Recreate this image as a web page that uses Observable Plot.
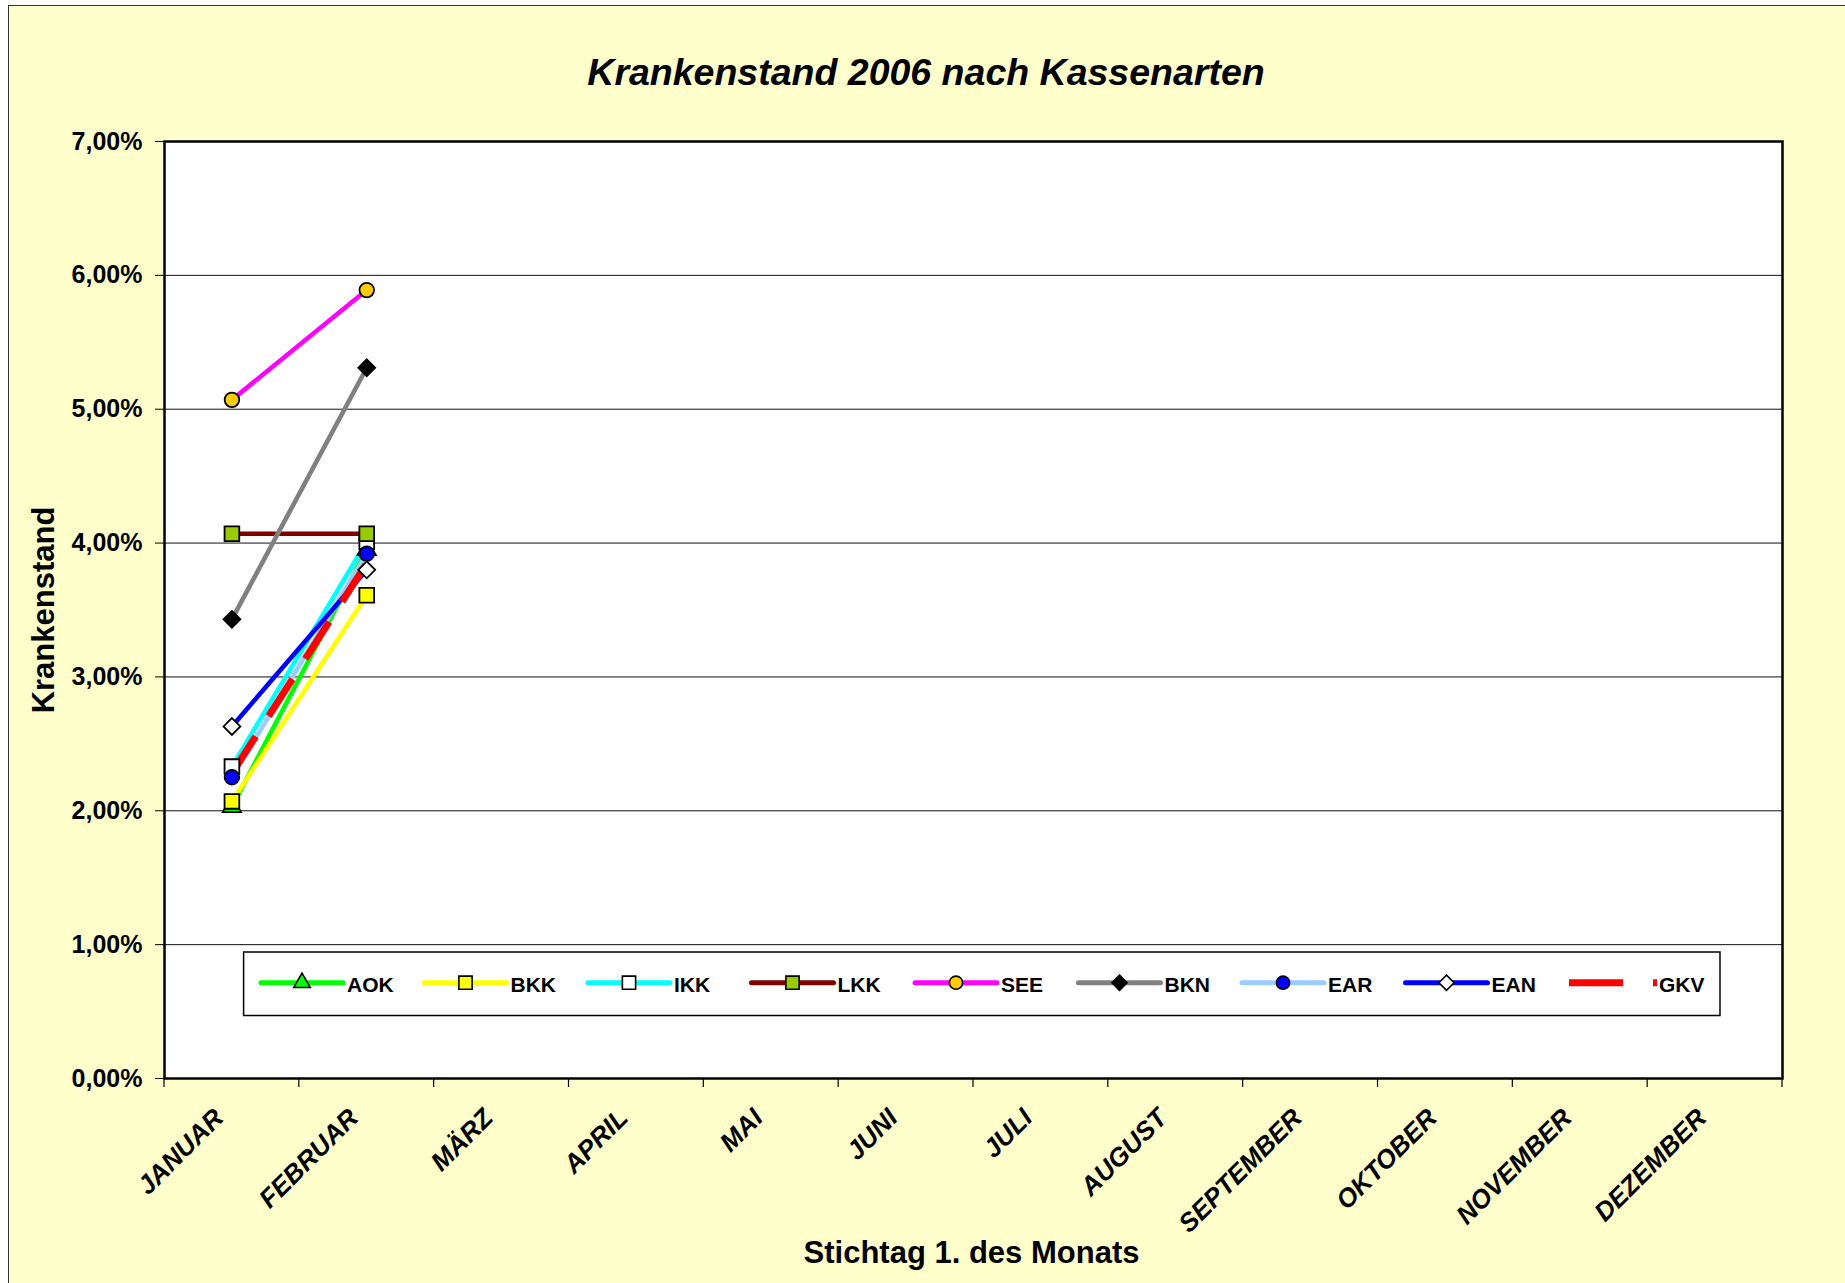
<!DOCTYPE html>
<html>
<head>
<meta charset="utf-8">
<script src="https://cdn.jsdelivr.net/npm/d3@7"></script>
<script src="https://cdn.jsdelivr.net/npm/@observablehq/plot@0.6"></script>
<style>
  html, body { margin: 0; padding: 0; background: #ffffff; overflow: hidden; width: 1845px; height: 1283px; }
  #frame { position: absolute; left: 8px; top: 5px; width: 1900px; height: 1400px; background: #FFFFCC;
           border-left: 1.5px solid #333; border-top: 1.5px solid #333; }
  #title { position: absolute; left: 0; top: 54px; width: 1852px; text-align: center;
           font: italic bold 37.5px "Liberation Sans", Arial, sans-serif; line-height: 37px; color: #000; }
  #chart { position: absolute; left: 0; top: 100px; }
</style>
</head>
<body>
<div id="frame"></div>
<div id="title">Krankenstand 2006 nach Kassenarten</div>
<div id="chart"></div>
<script>
// ---- data ----
const months = ["JANUAR","FEBRUAR","MÄRZ","APRIL","MAI","JUNI","JULI","AUGUST","SEPTEMBER","OKTOBER","NOVEMBER","DEZEMBER"];
const yTicks = [0, 1, 2, 3, 4, 5, 6, 7];
const seriesNames = ["AOK","BKK","IKK","LKK","SEE","BKN","EAR","EAN","GKV"];
const aok = [2.03, 3.95];
const bkk = [2.07, 3.61];
const ikk = [2.33, 4.01];
const lkk = [4.07, 4.07];
const see = [5.07, 5.89];
const bkn = [3.43, 5.31];
const ear = [2.25, 3.92];
const ean = [2.63, 3.80];
const gkv = [2.28, 3.85];
const seriesValues = [aok, bkk, ikk, lkk, see, bkn, ear, ean, gkv];

// ---- styles ----
const lineColors = ["#00FF00","#FFFF00","#00FFFF","#800000","#FF00FF","#808080","#99CCFF","#0000FF","#FF0000"];
const markerFill = ["#00FF00","#FFFF00","#FFFFFF","#99CC00","#FFCC00","#000000","#0000FF","#FFFFFF", null];
const markerSymbol = ["triangle","square","square","square","circle","diamond2","circle","diamond2", null];
const markerR = {triangle: 6.8, square: 8.3, circle: 7.3, diamond2: 7.6};

const W = 1845, H = 1183;
const mL = 164, mR = 63, mT = 41, mB = 205;

const tables = seriesValues.map((vals, i) =>
  vals.map((v, j) => ({month: months[j], value: v, series: seriesNames[i]})));

const marks = [];
marks.push(Plot.frame({fill: "white", stroke: null}));
marks.push(Plot.gridY(yTicks.filter(t => t > 0 && t < 7), {stroke: "#111", strokeOpacity: 1, strokeWidth: 1}));
tables.forEach((t, i) => {
  const isGkv = seriesNames[i] === "GKV";
  marks.push(Plot.line(t, {
    x: "month", y: "value", stroke: lineColors[i],
    strokeWidth: isGkv ? 7 : 4.6,
    strokeDasharray: isGkv ? "44,24" : null,
    strokeLinecap: "butt"
  }));
});
tables.forEach((t, i) => {
  if (!markerSymbol[i]) return;
  marks.push(Plot.dot(t, {
    x: "month", y: "value", symbol: markerSymbol[i], r: markerR[markerSymbol[i]],
    fill: markerFill[i], stroke: "black", strokeWidth: 1.8
  }));
});
marks.push(Plot.frame({stroke: "black", strokeWidth: 2.5}));
marks.push(Plot.axisY(yTicks, {
  tickFormat: d => d.toFixed(2).replace(".", ",") + "%",
  tickSize: 9, tickPadding: 13, fontSize: 25, fontWeight: "bold", label: null, stroke: "black"
}));
marks.push(Plot.text(months, {
  x: d => d, text: d => d, frameAnchor: "bottom", rotate: -45,
  textAnchor: "end", lineAnchor: "bottom", dx: -7, dy: 41,
  fontSize: 26, fontWeight: "bold", fontStyle: "italic", fill: "black"
}));
marks.push(Plot.text(["Krankenstand"], {
  text: d => d, frameAnchor: "left", rotate: -90, dx: -120,
  fontSize: 31, fontWeight: "bold", fill: "black", textAnchor: "middle", lineAnchor: "middle"
}));
marks.push(Plot.text(["Stichtag 1. des Monats"], {
  text: d => d, frameAnchor: "bottom", dx: -2, dy: 184, lineAnchor: "bottom",
  fontSize: 31, fontWeight: "bold", fill: "black"
}));

const plot = Plot.plot({
  width: W, height: H,
  marginLeft: mL, marginRight: mR, marginTop: mT, marginBottom: mB,
  style: {background: "transparent", fontFamily: "'Liberation Sans', Arial, sans-serif", color: "black", overflow: "visible"},
  x: {type: "band", domain: months, padding: 0, round: false, axis: null},
  y: {domain: [0, 7], axis: null},
  marks
});
document.getElementById("chart").appendChild(plot);

// ---- x-axis ticks at band boundaries (from Plot's x scale) ----
const sx = plot.scale("x");
const svg = d3.select(plot);
const yBottom = H - mB;
const bounds = months.map(m => sx.apply(m)).concat([sx.apply(months[months.length - 1]) + sx.bandwidth]);
svg.append("g").selectAll("line").data(bounds).join("line")
  .attr("x1", d => d).attr("x2", d => d)
  .attr("y1", yBottom).attr("y2", yBottom + 9)
  .attr("stroke", "black").attr("stroke-width", 1.2);

// ---- legend ----
const lg = svg.append("g").attr("text-anchor", "start");
const lx0 = 243.6, ly0 = 852, lw = 1476.4, lh = 63.5;
lg.append("rect").attr("x", lx0).attr("y", ly0).attr("width", lw).attr("height", lh)
  .attr("fill", "white").attr("stroke", "black").attr("stroke-width", 1.5);
const symMap = {triangle: d3.symbolTriangle, square: d3.symbolSquare, circle: d3.symbolCircle, diamond2: d3.symbolDiamond2};
seriesNames.forEach((name, i) => {
  const sx0 = 261 + i * 163.5;
  const ly = 882.7;
  const isGkv = name === "GKV";
  const len = isGkv ? 88 : 82;
  lg.append("line").attr("x1", sx0).attr("x2", sx0 + len).attr("y1", ly).attr("y2", ly)
    .attr("stroke", lineColors[i]).attr("stroke-width", isGkv ? 7 : 5)
    .attr("stroke-linecap", isGkv ? "butt" : "round")
    .attr("stroke-dasharray", isGkv ? "54,30" : null);
  if (markerSymbol[i]) {
    const r = markerR[markerSymbol[i]] * 0.9;
    lg.append("path").attr("d", d3.symbol(symMap[markerSymbol[i]], Math.PI * r * r)())
      .attr("transform", `translate(${sx0 + 41},${ly})`)
      .attr("fill", markerFill[i]).attr("stroke", "black").attr("stroke-width", 1.6);
  }
  lg.append("text").attr("x", sx0 + (isGkv ? 90 : 86)).attr("y", 891.5)
    .attr("text-anchor", "start")
    .attr("font-size", 21).attr("font-weight", "bold").attr("fill", "black").text(name);
});
</script>
</body>
</html>
